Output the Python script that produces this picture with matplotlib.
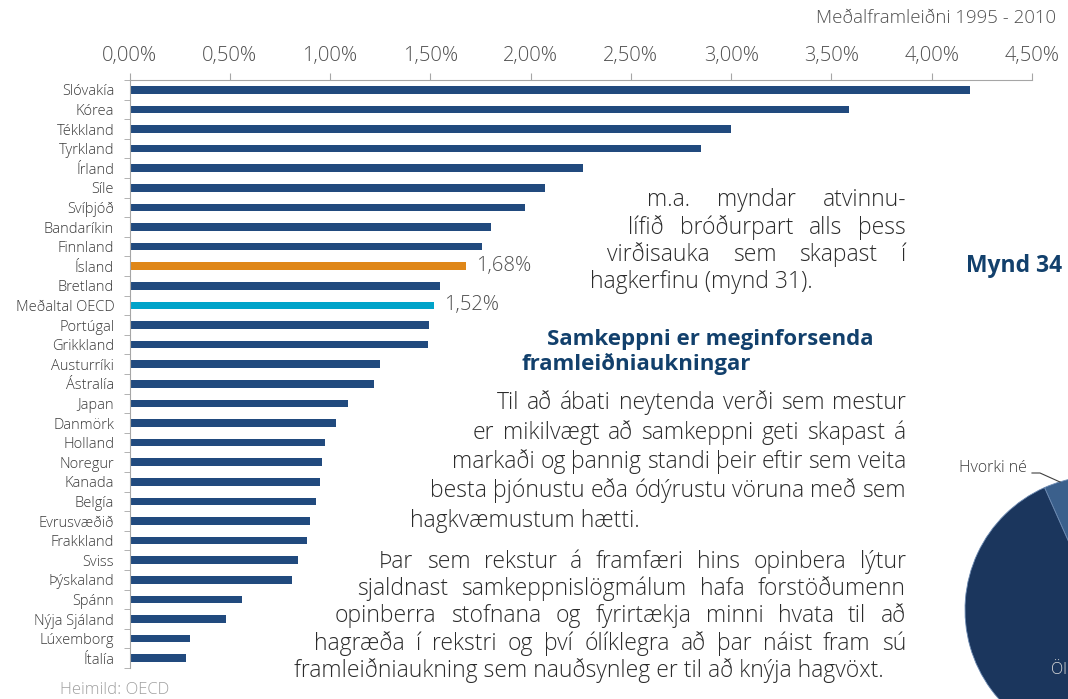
import matplotlib
matplotlib.use('Agg')
import matplotlib.pyplot as plt
from matplotlib.lines import Line2D
import numpy as np

# Meðalframleiðnivöxtur 1995-2010 (%), heimild OECD
countries = ['Slóvakía', 'Kórea', 'Tékkland', 'Tyrkland', 'Írland', 'Síle',
             'Svíþjóð', 'Bandaríkin', 'Finnland', 'Ísland', 'Bretland',
             'Meðaltal OECD', 'Portúgal', 'Grikkland', 'Austurríki', 'Ástralía',
             'Japan', 'Danmörk', 'Holland', 'Noregur', 'Kanada', 'Belgía',
             'Evrusvæðið', 'Frakkland', 'Sviss', 'Þýskaland', 'Spánn',
             'Nýja Sjáland', 'Lúxemborg', 'Ítalía']
growth = [4.19, 3.59, 3.00, 2.85, 2.26, 2.07, 1.97, 1.80, 1.76, 1.68, 1.55,
          1.52, 1.495, 1.49, 1.25, 1.22, 1.09, 1.03, 0.975, 0.96, 0.95, 0.93,
          0.90, 0.886, 0.84, 0.81, 0.56, 0.48, 0.30, 0.28]
labelled = ['Ísland', 'Meðaltal OECD']
xticks = np.arange(0, 4.51, 0.5)

# skífurit (Mynd 34), aðeins vinstri hlutinn sést
pie_labels = ['Hvorki né', 'Öl']
pie_shares = [9, 91]

NAVY = '#214a7e'
ORANGE = '#df8719'
CYAN = '#00a3c9'
GREY = '#a6a6a6'
LABEL = '#3a3a3a'
TICK = '#505050'
TEXT = '#2b2b2b'
HEAD = '#12406c'
FONT = 'Open Sans'

W, H = 1068, 699
fig = plt.figure(figsize=(W / 100, H / 100), dpi=100)


def fx(x):
    return x / W


def fy(y):
    return 1 - y / H


# --- súlurit ---
ax = fig.add_axes([fx(129.5), fy(668), (1032 - 129.5) / W, 588 / H])
colors = [ORANGE if c == 'Ísland' else CYAN if c == 'Meðaltal OECD' else NAVY
          for c in countries]
ypos = np.arange(len(countries))
ax.barh(ypos, growth, height=0.38, color=colors)
ax.set_xlim(0, 4.5)
ax.set_ylim(len(countries) - 0.5, -0.5)

ax.xaxis.tick_top()
ax.set_xticks(xticks, [f'{v:.2f}%'.replace('.', ',') for v in xticks])
ax.tick_params(axis='x', length=5, color=GREY, pad=5, labelsize=14.5,
               labelcolor=TICK)
ax.set_yticks(ypos, countries)
ax.set_yticks(np.arange(-0.5, len(countries)), minor=True)
ax.tick_params(axis='y', which='major', length=0, pad=11, labelsize=10.5,
               labelcolor=LABEL)
ax.tick_params(axis='y', which='minor', length=4, color=GREY)
for lab in ax.get_xticklabels() + ax.get_yticklabels():
    lab.set_family(FONT)
    lab.set_fontweight('light')
for side in ['right', 'bottom']:
    ax.spines[side].set_visible(False)
for side in ['top', 'left']:
    ax.spines[side].set_color(GREY)

for name in labelled:
    i = countries.index(name)
    v = growth[i]
    ax.text(v + 0.05, i, f'{v:.2f}%'.replace('.', ','), va='center',
            fontsize=14.5, color=TICK, family=FONT, fontweight='light')

fig.text(fx(1056), fy(18), 'Meðalframleiðni 1995 - 2010', ha='right',
         va='center', fontsize=13.4, color=TICK, family=FONT,
         fontweight='light')
fig.text(fx(60), fy(690), 'Heimild: OECD', va='center', fontsize=12,
         color='#a0a0a0', family=FONT, fontweight='light')

# --- skífurit ---
r_px, pad = 134, 1.05
cx, cy = 1099, 610
pax = fig.add_axes([fx(cx - r_px * pad), fy(cy + r_px * pad),
                    2 * r_px * pad / W, 2 * r_px * pad / H])
pax.pie(pie_shares, colors=['#3b608c', '#1b365d'], startangle=114,
        counterclock=False,
        wedgeprops=dict(edgecolor='#6d8bb3', linewidth=0.6))
pax.set_xlim(-pad, pad)
pax.set_ylim(-pad, pad)
pax.axis('off')

fig.text(fx(959), fy(468), pie_labels[0], va='center', fontsize=11.5,
         color=LABEL, family=FONT, fontweight='light')
fig.add_artist(Line2D([fx(1032), fx(1040), fx(1060)],
                      [fy(473), fy(473), fy(482)], color='#404040', lw=0.8))
fig.text(fx(1051), fy(670), pie_labels[1], va='center', fontsize=11.5,
         color='#dcdcdc', family=FONT, fontweight='light')
fig.text(fx(966), fy(266), 'Mynd 34', va='center', fontsize=16.5,
         fontweight='bold', color=HEAD, family=FONT)

# --- meginmál ---
body = dict(fontsize=16.5, color=TEXT, family=FONT, fontweight='light')
renderer = fig.canvas.get_renderer()
RIGHT = 906


def put_line(text, x0, base, justify, x1=RIGHT, **kw):
    if not justify:
        fig.text(fx(x0), fy(base), text, va='baseline', **kw)
        return
    words = text.split()
    arts = [fig.text(0, fy(base), w, va='baseline', **kw) for w in words]
    widths = [a.get_window_extent(renderer).width for a in arts]
    gap = (x1 - x0 - sum(widths)) / (len(words) - 1)
    x = x0
    for a, w in zip(arts, widths):
        a.set_x(fx(x))
        x += w + gap


para1 = [('m.a. myndar atvinnu-', 647, 206, True),
         ('lífið bróðurpart alls þess', 628, 234, True),
         ('virðisauka sem skapast í', 607, 261, True),
         ('hagkerfinu (mynd 31).', 590, 288, False)]
para2 = [('Til að ábati neytenda verði sem mestur', 497, 409, True),
         ('er mikilvægt að samkeppni geti skapast á', 473, 439, True),
         ('markaði og þannig standi þeir eftir sem veita', 452, 468, True),
         ('besta þjónustu eða ódýrustu vöruna með sem', 430, 497, True),
         ('hagkvæmustum hætti.', 410, 527, False)]
para3 = [('Þar sem rekstur á framfæri hins opinbera lýtur', 379, 568, True),
         ('sjaldnast samkeppnislögmálum hafa forstöðumenn', 357, 595, True),
         ('opinberra stofnana og fyrirtækja minni hvata til að', 335, 622, True),
         ('hagræða í rekstri og því ólíklegra að þar náist fram sú', 314, 650, True),
         ('framleiðniaukning sem nauðsynleg er til að knýja hagvöxt.', 294, 677, False)]
for line, x0, base, just in para1 + para2 + para3:
    put_line(line, x0, base, just, **body)

head = dict(fontsize=16, fontweight='bold', color=HEAD, family=FONT)
put_line('Samkeppni er meginforsenda', 547, 345, False, **head)
put_line('framleiðniaukningar', 522, 370, False, **head)

fig.savefig('out.png', dpi=100)
